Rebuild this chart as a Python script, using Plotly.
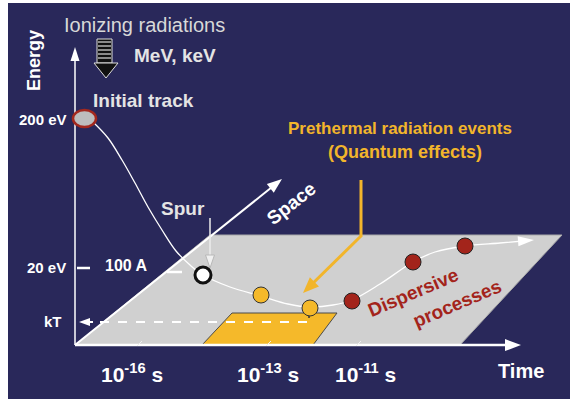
import math
import plotly.graph_objects as go

# ---- data (diagram coordinates, pixel-like units) ----
curve_x = [93, 108, 122, 135, 148, 162, 176, 190, 203, 230, 261, 288, 310, 333, 352, 380, 413, 435, 465, 500, 528]
curve_y = [122, 138, 160, 183, 207, 230, 251, 265, 275, 287, 296, 304, 307, 305, 300, 284, 262, 252, 246, 243, 240.5]

yellow_x = [261, 310]
yellow_y = [295, 308]
red_x = [352, 413, 465]
red_y = [301, 262, 246]
spur_x = [203]
spur_y = [275]

plane_x = [75, 210, 562, 460]
plane_y = [345, 235, 235, 345]
thermal_x = [202, 232, 337, 313]
thermal_y = [345, 313, 313, 345]

energy_labels = ["200 eV", "20 eV", "kT"]
energy_label_x = [43, 46, 53]
energy_label_y = [119, 267, 321]

time_labels = ["10<sup>-16</sup> s", "10<sup>-13</sup> s", "10<sup>-11</sup> s"]
time_label_x = [132, 268, 365]
time_tick_x = [139, 268, 358]

BG = "#29285a"
WHITE = "white"
ORANGE = "#f2b52b"
YEL = "#f5b92a"
RED = "#a3241b"
FONT = "Liberation Sans"

fig = go.Figure()
shapes = []
annotations = []


def poly(xs, ys, fill, line_color=None, width=0, layer="below"):
    p = "M " + " L ".join(f"{x:.2f},{y:.2f}" for x, y in zip(xs, ys)) + " Z"
    return dict(type="path", path=p, xref="x", yref="y", fillcolor=fill,
                line=dict(color=line_color or fill, width=width), layer=layer)


def seg(x0, y0, x1, y1, color=WHITE, width=2, dash="solid"):
    return dict(type="line", x0=x0, y0=y0, x1=x1, y1=y1, xref="x", yref="y",
                line=dict(color=color, width=width, dash=dash), layer="below")


def head(x0, y0, x1, y1, color=WHITE, length=12, half=5, layer="below", outline=None):
    dx, dy = x1 - x0, y1 - y0
    n = math.hypot(dx, dy)
    ux, uy = dx / n, dy / n
    bx, by = x1 - ux * length, y1 - uy * length
    px, py = -uy, ux
    xs = [x1, bx + px * half, bx - px * half]
    ys = [y1, by + py * half, by - py * half]
    return poly(xs, ys, color, outline or color, 1 if outline else 0, layer)


def arrow(x0, y0, x1, y1, color=WHITE, width=2, length=12, half=5):
    dx, dy = x1 - x0, y1 - y0
    n = math.hypot(dx, dy)
    ex, ey = x1 - dx / n * (length * 0.8), y1 - dy / n * (length * 0.8)
    shapes.append(seg(x0, y0, ex, ey, color, width))
    shapes.append(head(x0, y0, x1, y1, color, length, half))


def text(t, x, y, size=14, color=WHITE, bold=True, angle=0, xanchor="center"):
    annotations.append(dict(x=x, y=y, xref="x", yref="y", text=(f"<b>{t}</b>" if bold else t),
                            showarrow=False, textangle=angle, xanchor=xanchor, yanchor="middle",
                            font=dict(family=FONT, size=size, color=color)))


# background panel
shapes.append(dict(type="rect", x0=8, y0=3, x1=570, y1=399, xref="x", yref="y",
                   fillcolor=BG, line=dict(width=0), layer="below"))
# grey plane
shapes.append(poly(plane_x, plane_y, "#d0d0d0", "#a8a8a8", 1))
# thermal (yellow) region
shapes.append(poly(thermal_x, thermal_y, YEL, "#4a4a4a", 1))

# axes
arrow(75, 345, 75, 47, WHITE, 1.5, 14, 4.5)
arrow(75, 345, 521, 345, WHITE, 2.5, 16, 6)
arrow(75, 345, 282, 179, WHITE, 2, 15, 5.5)

# small ticks on time axis
for tx in time_tick_x:
    shapes.append(seg(tx - 2, 346, tx + 3, 341, "#f0f0f0", 1))

# energy ticks
shapes.append(seg(77, 268, 90, 268, WHITE, 2.5))
shapes.append(seg(167, 272, 182, 272, WHITE, 2.5))

# kT dashed line
shapes.append(seg(100, 322, 310, 322, WHITE, 2, "dash"))
arrow(93, 322, 79, 322, WHITE, 2, 11, 4)
shapes.append(seg(309, 313, 309, 318, "#333333", 1.5))

# orange pointer
shapes.append(seg(361, 180, 361, 237, ORANGE, 3))
arrow(361, 236, 303, 293, ORANGE, 3, 16, 6.5)

# ionizing radiation striped arrow
shapes.append(dict(type="rect", x0=97, y0=39, x1=112, y1=63, xref="x", yref="y",
                   fillcolor="#111111", line=dict(color="#dddddd", width=1), layer="below"))
for sy in [42, 46, 50, 54, 58]:
    shapes.append(seg(98, sy, 111, sy, "#e0e0e0", 1.2))
shapes.append(poly([94, 118, 106], [63, 63, 78], "#111111", "#dddddd", 1))

# spur arrow
shapes.append(seg(210, 218, 210, 258, "#ececec", 1.5))
shapes.append(head(210, 218, 210, 268, "#f0f0f0", 13, 4.5, outline="#b8b8b8"))

# track curve
fig.add_trace(go.Scatter(x=curve_x, y=curve_y, mode="lines",
                         line=dict(color=WHITE, width=1.3, shape="spline"),
                         hoverinfo="skip", showlegend=False))
shapes.append(head(515, 241.5, 534, 240, WHITE, 16, 5))

# initial track ellipse
shapes.append(dict(type="circle", x0=73, y0=110, x1=96, y1=127, xref="x", yref="y",
                   fillcolor="#bdbdbd", line=dict(color="#a3281e", width=2.5), layer="above"))

# points
fig.add_trace(go.Scatter(x=spur_x, y=spur_y, mode="markers",
                         marker=dict(size=16, color=WHITE, line=dict(color="#111111", width=3)),
                         hoverinfo="skip", showlegend=False))
fig.add_trace(go.Scatter(x=yellow_x, y=yellow_y, mode="markers",
                         marker=dict(size=16, color=YEL, line=dict(color="#333333", width=1)),
                         hoverinfo="skip", showlegend=False))
fig.add_trace(go.Scatter(x=red_x, y=red_y, mode="markers",
                         marker=dict(size=16, color=RED, line=dict(color="#222222", width=1)),
                         hoverinfo="skip", showlegend=False))

# texts
text("Ionizing radiations", 144, 25, 20, "#d8d8d8", bold=False)
text("MeV, keV", 175, 55, 19, "#e4e4e4")
text("Initial track", 143, 100, 19, "#e4e4e4")
text("Energy", 34, 61, 18, WHITE, angle=-90)
for lab, lx, ly in zip(energy_labels, energy_label_x, energy_label_y):
    text(lab, lx, ly, 15, WHITE)
text("100 A", 126, 265, 16, WHITE)
text("Spur", 183, 208, 19, "#e4e4e4")
text("Space", 291, 203, 19, WHITE, angle=-38)
text("Prethermal radiation events", 400, 128, 17, ORANGE)
text("(Quantum effects)", 405, 152, 18, ORANGE)
text("Dispersive", 413, 292, 19, RED, angle=-23)
text("processes", 457, 303, 19, RED, angle=-23)
for lab, lx in zip(time_labels, time_label_x):
    text(lab, lx, 373, 21, WHITE)
text("Time", 521, 371, 20, WHITE)

fig.update_layout(
    width=571, height=401, margin=dict(l=0, r=0, t=0, b=0),
    paper_bgcolor="white", plot_bgcolor="white",
    xaxis=dict(range=[0, 571], visible=False, fixedrange=True),
    yaxis=dict(range=[401, 0], visible=False, fixedrange=True),
    shapes=shapes, annotations=annotations, showlegend=False,
)
fig.write_html("out.html", config={"displayModeBar": False},
               post_script="document.body.style.margin='0';document.body.style.padding='0';")
